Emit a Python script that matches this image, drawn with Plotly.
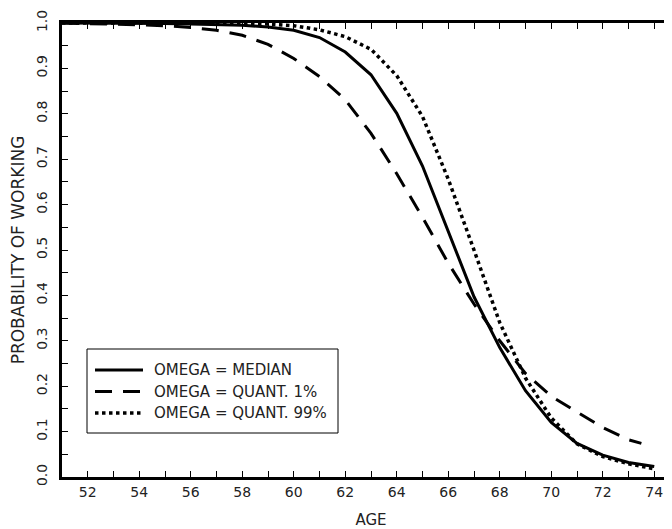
import plotly.graph_objects as go

# ---- data ----
ages = [51, 52, 53, 54, 55, 56, 57, 58, 59, 60, 61, 62, 63, 64, 65, 66, 67, 68, 69, 70, 71, 72, 73, 74]
median = [1.0, 1.0, 1.0, 0.999, 0.999, 0.998, 0.997, 0.995, 0.991, 0.984, 0.968, 0.936, 0.886, 0.801,
          0.685, 0.54, 0.397, 0.285, 0.19, 0.12, 0.074, 0.048, 0.032, 0.023]
ages_q1 = [51, 52, 53, 54, 55, 56, 57, 58, 59, 60, 61, 62, 63, 64, 65, 66, 67, 68, 69, 70, 71, 72, 73, 73.5]
quant1 = [1.0, 0.999, 0.998, 0.996, 0.994, 0.99, 0.984, 0.973, 0.953, 0.922, 0.882, 0.831, 0.757, 0.668,
          0.572, 0.471, 0.381, 0.30, 0.228, 0.178, 0.143, 0.109, 0.082, 0.074]
quant99 = [1.0, 1.0, 1.0, 1.0, 1.0, 1.0, 1.0, 0.999, 0.998, 0.994, 0.985, 0.97, 0.942, 0.884,
           0.794, 0.656, 0.50, 0.34, 0.218, 0.13, 0.073, 0.045, 0.029, 0.018]
legend_labels = ["OMEGA = MEDIAN", "OMEGA = QUANT. 1%", "OMEGA = QUANT. 99%"]

FONT = "DejaVu Sans"
TXT = "#222222"
W, H = 672, 529
OFF = 8  # default page margin of the html body
ML, MR, MT, MB = 54, 0, 15, 60
PW, PH = W - ML - MR, H - MT - MB


def px(x):  # page pixel -> paper fraction
    return (x - OFF - ML) / PW


def py(y):
    return (H - MB - (y - OFF)) / PH


styles = [dict(color="black", width=3),
          dict(color="black", width=3, dash="17px,11px"),
          dict(color="black", width=3.5, dash="3.5px,3.5px")]

fig = go.Figure()
fig.add_trace(go.Scatter(x=ages, y=median, mode="lines", line=styles[0], name=legend_labels[0], showlegend=False))
fig.add_trace(go.Scatter(x=ages_q1, y=quant1, mode="lines", line=styles[1], name=legend_labels[1], showlegend=False))
fig.add_trace(go.Scatter(x=ages, y=quant99, mode="lines", line=styles[2], name=legend_labels[2], showlegend=False))

# custom legend box
shapes = [dict(type="rect", xref="paper", yref="paper", x0=px(87), x1=px(338), y0=py(433), y1=py(349),
               line=dict(color="black", width=1), fillcolor="white", layer="above")]
annotations = []
rows = [370, 391.5, 413]
for i, r in enumerate(rows):
    st = styles[i]
    shapes.append(dict(type="line", xref="paper", yref="paper", x0=px(95), x1=px(143), y0=py(r), y1=py(r),
                       line=dict(color="black", width=st["width"], dash=st.get("dash", "solid")), layer="above"))
    annotations.append(dict(xref="paper", yref="paper", x=px(152), y=py(r), xanchor="left", yanchor="middle",
                            text=legend_labels[i], showarrow=False, font=dict(family=FONT, size=15, color=TXT)))

fig.update_layout(
    width=W, height=H,
    margin=dict(l=ML, r=MR, t=MT, b=MB, pad=0, autoexpand=False),
    paper_bgcolor="white", plot_bgcolor="white",
    font=dict(family=FONT, size=14, color=TXT),
    shapes=shapes, annotations=annotations,
    showlegend=False,
)
fig.update_xaxes(
    automargin=False,
    range=[51, 75], showgrid=False, zeroline=False,
    showline=True, linecolor="black", linewidth=3, mirror="ticks",
    ticks="inside", ticklen=6, tickwidth=1.2, tickcolor="black",
    tick0=52, dtick=2,
    minor=dict(dtick=1, tick0=51, ticks="inside", ticklen=6, tickwidth=1.2, tickcolor="black", showgrid=False),
    tickfont=dict(family=FONT, size=14, color=TXT),
    ticklabelstandoff=0,
    title=dict(text="AGE", font=dict(family=FONT, size=15, color=TXT), standoff=16),
)
fig.update_yaxes(
    automargin=False,
    range=[0, 1], showgrid=False, zeroline=False,
    showline=True, linecolor="black", linewidth=3,
    ticks="inside", ticklen=6, tickwidth=1.2, tickcolor="black",
    tick0=0, dtick=0.1, tickformat=".1f", tickangle=-90,
    minor=dict(dtick=0.05, ticks="inside", ticklen=6, tickwidth=1.2, tickcolor="black", showgrid=False),
    tickfont=dict(family=FONT, size=14, color=TXT),
    ticklabelstandoff=6,
    title=dict(text="PROBABILITY OF WORKING", font=dict(family=FONT, size=17, color=TXT), standoff=8),
)

fig.write_html("out.html")
